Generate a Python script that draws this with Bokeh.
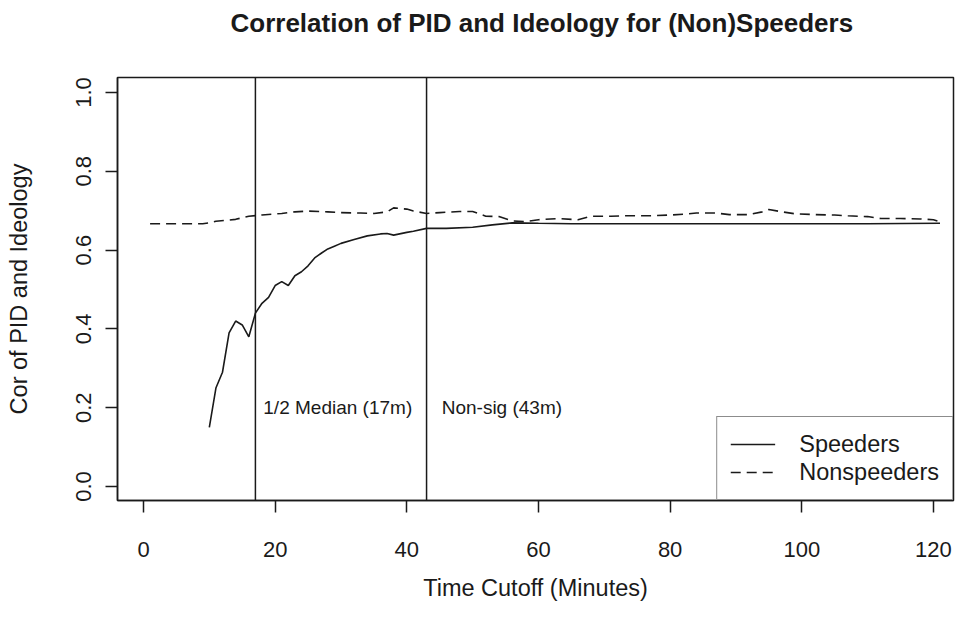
from bokeh.plotting import figure
from bokeh.models import (Span, Legend, LegendItem, FixedTicker, PrintfTickFormatter,
                          Range1d, Title)
from bokeh.core.properties import value
from bokeh.embed import file_html
from bokeh.resources import INLINE

# ---- data ----
speeders_x = [10, 11, 12, 13, 14, 15, 16, 17, 18, 19, 20, 21, 22, 23, 24, 25, 26, 27, 28, 29,
              30, 32, 34, 36, 37, 38, 40, 41, 43, 46, 50, 53, 56, 60, 65, 70, 80, 90, 100, 110, 121]
speeders_y = [0.15, 0.25, 0.29, 0.39, 0.42, 0.41, 0.38, 0.44, 0.465, 0.48,
              0.51, 0.52, 0.51, 0.535, 0.545, 0.56, 0.58, 0.592, 0.603, 0.61,
              0.617, 0.627, 0.636, 0.641, 0.642, 0.638, 0.645, 0.648, 0.655, 0.655,
              0.658, 0.664, 0.669, 0.668, 0.667, 0.667, 0.667, 0.667, 0.667, 0.667, 0.668]

nonspeeders_x = [1, 3, 5, 7, 9, 10, 11, 14, 16, 18, 21, 23, 25, 28, 30, 33, 35, 37, 38, 40,
                 41, 43, 45, 48, 50, 52, 54, 56, 58, 60, 63, 66, 68, 71, 73, 77, 80, 82, 84, 87,
                 89, 92, 94, 95, 97, 99, 102, 105, 107, 110, 112, 115, 118, 120, 121]
nonspeeders_y = [0.667, 0.667, 0.667, 0.667, 0.667, 0.669, 0.673, 0.678, 0.686, 0.689,
                 0.693, 0.697, 0.699, 0.697, 0.695, 0.694, 0.693, 0.697, 0.707, 0.704,
                 0.699, 0.693, 0.695, 0.698, 0.698, 0.686, 0.685, 0.674, 0.672, 0.677,
                 0.680, 0.677, 0.686, 0.686, 0.687, 0.687, 0.689, 0.691, 0.694, 0.694,
                 0.690, 0.690, 0.697, 0.703, 0.697, 0.692, 0.690, 0.689, 0.687, 0.685,
                 0.680, 0.680, 0.679, 0.677, 0.672]

cutoffs = [17, 43]
cutoff_labels = ["1/2 Median (17m)", "Non-sig (43m)"]
cutoff_label_x = [18.2, 45.3]
cutoff_label_y = [0.2, 0.2]

x_ticks = [0, 20, 40, 60, 80, 100, 120]
y_ticks = [0.0, 0.2, 0.4, 0.6, 0.8, 1.0]

title_text = "Correlation of PID and Ideology for (Non)Speeders"
x_title = "Time Cutoff (Minutes)"
y_title = "Cor of PID and Ideology"
series_names = ["Speeders", "Nonspeeders"]

FONT = "Liberation Sans"
INK = "#1a1a1a"

W, H = 955, 603
B_LEFT, B_RIGHT, B_TOP, B_BOTTOM = 117, 2, 75, 103

p = figure(width=W, height=H, output_backend="svg", toolbar_location=None, title=None,
           x_range=Range1d(-3.95, 123.05), y_range=Range1d(-0.0354, 1.0379),
           min_border_left=B_LEFT, min_border_right=B_RIGHT,
           min_border_top=B_TOP, min_border_bottom=B_BOTTOM)

# spacer (closest to the frame) then the real title above it
p.add_layout(Title(text=" ", text_font=FONT, text_font_size="21px"), "above")
p.add_layout(Title(text=title_text, text_font=FONT, text_font_size="26px",
                   text_font_style="bold", text_color=INK, align="left", offset=113),
             "above")

p.outline_line_color = INK
p.outline_line_width = 1.5
p.xgrid.visible = False
p.ygrid.visible = False
p.background_fill_color = "white"
p.border_fill_color = "white"

for ax in (p.xaxis[0], p.yaxis[0]):
    ax.axis_line_color = INK
    ax.axis_line_width = 1.5
    ax.major_tick_line_color = INK
    ax.major_tick_line_width = 1.5
    ax.major_tick_out = 12
    ax.major_tick_in = 0
    ax.minor_tick_line_color = None
    ax.major_label_text_font = FONT
    ax.major_label_text_font_size = "22px"
    ax.major_label_text_color = INK
    ax.axis_label_text_font = FONT
    ax.axis_label_text_font_size = "23.5px"
    ax.axis_label_text_font_style = "normal"
    ax.axis_label_text_color = INK

p.xaxis.ticker = FixedTicker(ticks=x_ticks)
p.yaxis.ticker = FixedTicker(ticks=y_ticks)
p.yaxis.formatter = PrintfTickFormatter(format="%.1f")
p.yaxis.major_label_orientation = "vertical"
p.xaxis.axis_label = x_title
p.yaxis.axis_label = y_title
p.xaxis.major_label_standoff = 29
p.xaxis.axis_label_standoff = 15
p.yaxis.major_label_standoff = 14
p.yaxis.axis_label_standoff = 42

for c in cutoffs:
    p.add_layout(Span(location=c, dimension="height", line_color=INK, line_width=1.5))

r_sp = p.line(speeders_x, speeders_y, line_color=INK, line_width=1.6)
r_ns = p.line(nonspeeders_x, nonspeeders_y, line_color=INK, line_width=1.6, line_dash="10 6")

p.text(x=cutoff_label_x, y=cutoff_label_y, text=cutoff_labels, text_font=value(FONT),
       text_font_size="19px", text_baseline="middle", text_align="left", text_color=INK)

legend = Legend(items=[LegendItem(label=series_names[0], renderers=[r_sp]),
                       LegendItem(label=series_names[1], renderers=[r_ns])],
                location="bottom_right", margin=0, padding=13, spacing=0,
                glyph_width=45, glyph_height=28, label_height=28, label_standoff=24,
                label_text_font=FONT, label_text_font_size="23.5px", label_text_color=INK,
                border_line_color=INK, border_line_width=1.5, background_fill_alpha=1.0)
p.add_layout(legend)

open("out.html", "w").write(file_html(p, INLINE))
